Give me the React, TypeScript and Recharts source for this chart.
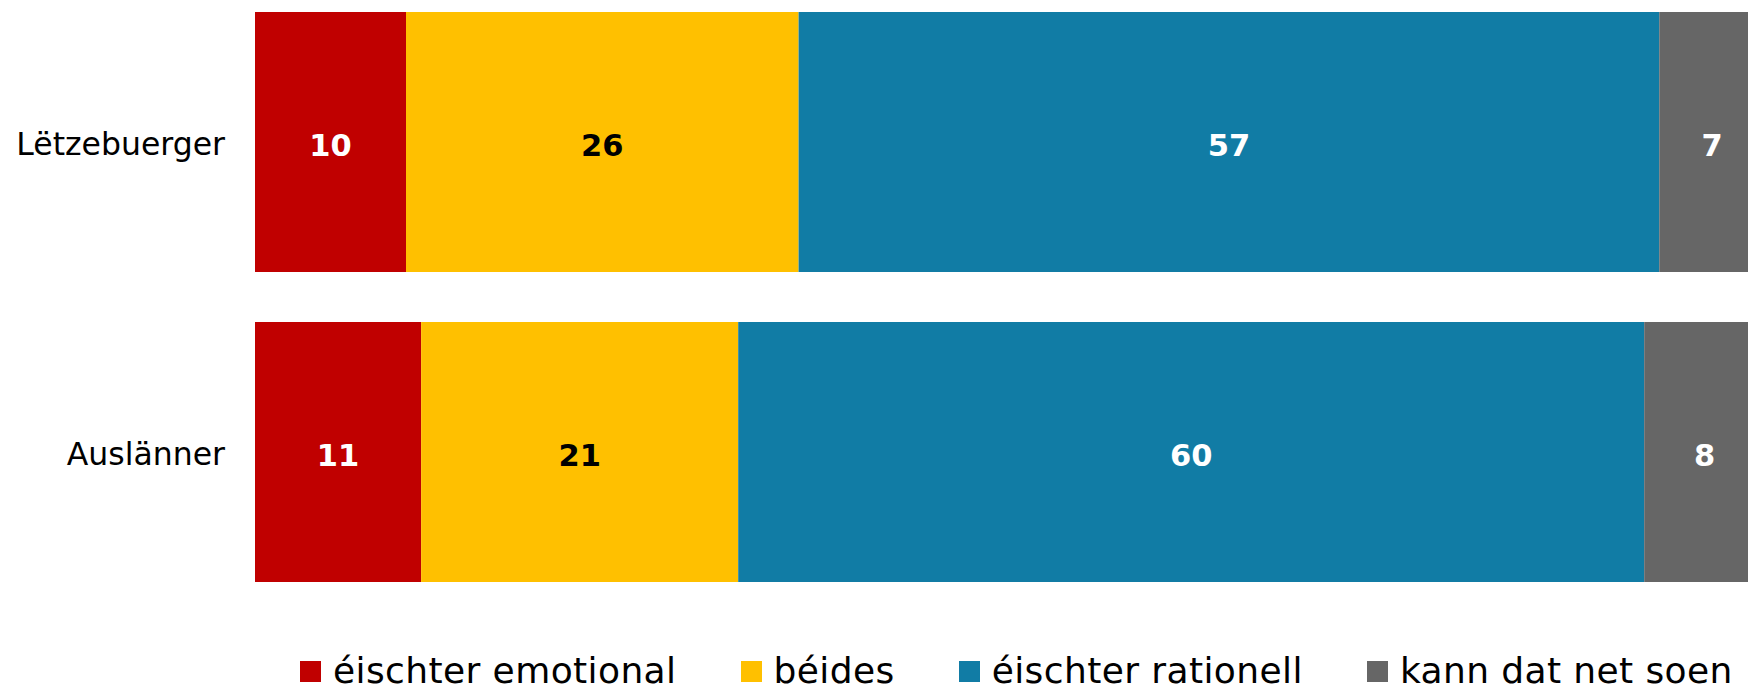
import { Bar, BarChart, LabelList, Legend, XAxis, YAxis } from "recharts";

const groups = ["Lëtzebuerger", "Auslänner"];
const emotional = [10, 11];
const beides = [26, 21];
const rationell = [57, 60];
const kannNet = [7, 8];

const seriesKeys = ["emotional", "beides", "rationell", "kannNet"];
const seriesNames = ["éischter emotional", "béides", "éischter rationell", "kann dat net soen"];
const colors = ["#C00000", "#FFC000", "#117CA5", "#666666"];
const labelColors = ["#FFFFFF", "#000000", "#FFFFFF", "#FFFFFF"];

const data = groups.map((g, i) => ({
    group: g,
    emotional: emotional[i],
    beides: beides[i],
    rationell: rationell[i],
    kannNet: kannNet[i]
}));

const font = "'DejaVu Sans', Verdana, sans-serif";

// legend drawn from the series arrays so the order stays as in the source
const renderLegend = () => (
    <div style={{ display: "flex", alignItems: "center", height: 40, paddingLeft: 300, fontFamily: font, fontSize: 36, letterSpacing: 0.4, color: "#000" }}>
        {seriesNames.map((name, i) => (
            <div key={name} style={{ display: "flex", alignItems: "center", marginRight: 64, whiteSpace: "nowrap" }}>
                <span style={{ display: "inline-block", width: 21, height: 21, background: colors[i], marginRight: 12 }} />
                <span style={{ lineHeight: "40px" }}>{name}</span>
            </div>
        ))}
    </div>
);

export default function App() {
    return (
        <div style={{ position: "absolute", left: 0, top: 0, width: 1748, height: 687, overflow: "hidden" }}>
            <BarChart
                width={1748}
                height={687}
                data={data}
                layout="vertical"
                barCategoryGap={25}
                margin={{ top: -13, right: -17, left: 0, bottom: 40 }}
            >
                <XAxis type="number" domain={[0, 100]} hide />
                <YAxis
                    type="category"
                    dataKey="group"
                    width={255}
                    axisLine={false}
                    tickLine={false}
                    tickSize={0}
                    tickMargin={30}
                    tick={{ fill: "#000", fontSize: 31.5, fontFamily: font, dy: 2 }}
                />
                <Legend
                    verticalAlign="bottom"
                    content={renderLegend}
                    wrapperStyle={{ left: 0, bottom: -4, width: 1748 }}
                />
                {seriesKeys.map((k, i) => (
                    <Bar key={k} dataKey={k} name={seriesNames[i]} stackId="a" fill={colors[i]} isAnimationActive={false}>
                        <LabelList
                            dataKey={k}
                            position="center"
                            fill={labelColors[i]}
                            dy={3}
                            style={{ fontWeight: "bold", fontSize: 30.5, fontFamily: font }}
                        />
                    </Bar>
                ))}
            </BarChart>
        </div>
    );
}
